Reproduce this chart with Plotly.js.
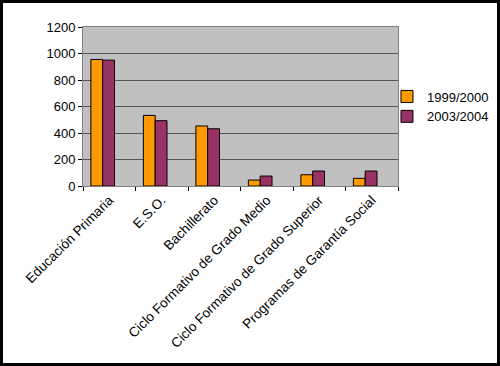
<!DOCTYPE html>
<html><head><meta charset="utf-8">
<script src="https://cdn.plot.ly/plotly-3.0.1.min.js"></script>
<style>
html,body{margin:0;padding:0;background:#fff;}
#wrap{width:500px;height:366px;box-sizing:border-box;border:3px solid #000;overflow:hidden;}
#chart{width:494px;height:360px;}
</style></head>
<body><div id="wrap"><div id="chart"></div></div>
<script>
const categories = ["Educación Primaria","E.S.O.","Bachillerato","Ciclo Formativo de Grado Medio","Ciclo Formativo de Grado Superior","Programas de Garantía Social"];
const series1Name = "1999/2000";
const series1 = [955, 533, 453, 45, 85, 58];
const series2Name = "2003/2004";
const series2 = [950, 493, 432, 75, 113, 113];
const yTicks = [0,200,400,600,800,1000,1200];

const font = {family:"Liberation Sans, Arial, sans-serif", size:13, color:"#000"};
const traces = [
  {type:"bar", name:series1Name, x:categories, y:series1, width:0.225, offset:-0.35, marker:{color:"#ff9900", line:{color:"#000", width:1}}},
  {type:"bar", name:series2Name, x:categories, y:series2, width:0.225, offset:-0.125, marker:{color:"#993366", line:{color:"#000", width:1}}}
];
const layout = {
  width:494, height:360,
  margin:{l:80, r:99, t:24, b:177, autoexpand:false},
  paper_bgcolor:"#fff", plot_bgcolor:"#c0c0c0",
  font:font,
  barmode:"overlay",
  showlegend:true,
  legend:{x:0.965, y:0.5, xanchor:"left", yanchor:"middle", font:{family:font.family, size:13}, bgcolor:"rgba(0,0,0,0)", tracegroupgap:2, itemwidth:30},
  xaxis:{type:"category", tickangle:-45, tickfont:{family:font.family, size:13.5}, ticks:"outside", tickson:"boundaries", ticklen:4, tickcolor:"#000", showline:true, linecolor:"#808080", mirror:true, showgrid:false, automargin:false, range:[-0.5,5.5]},
  yaxis:{range:[0,1200], tickvals:yTicks, ticktext:yTicks.map(String), ticks:"outside", ticklen:4, tickcolor:"#000", showline:true, linecolor:"#808080", linewidth:1, mirror:true, gridcolor:"#555", gridwidth:1, zeroline:false, tickfont:{family:font.family, size:13}, automargin:false}
};
Plotly.newPlot("chart", traces, layout, {displayModeBar:false, staticPlot:true});
</script></body></html>
